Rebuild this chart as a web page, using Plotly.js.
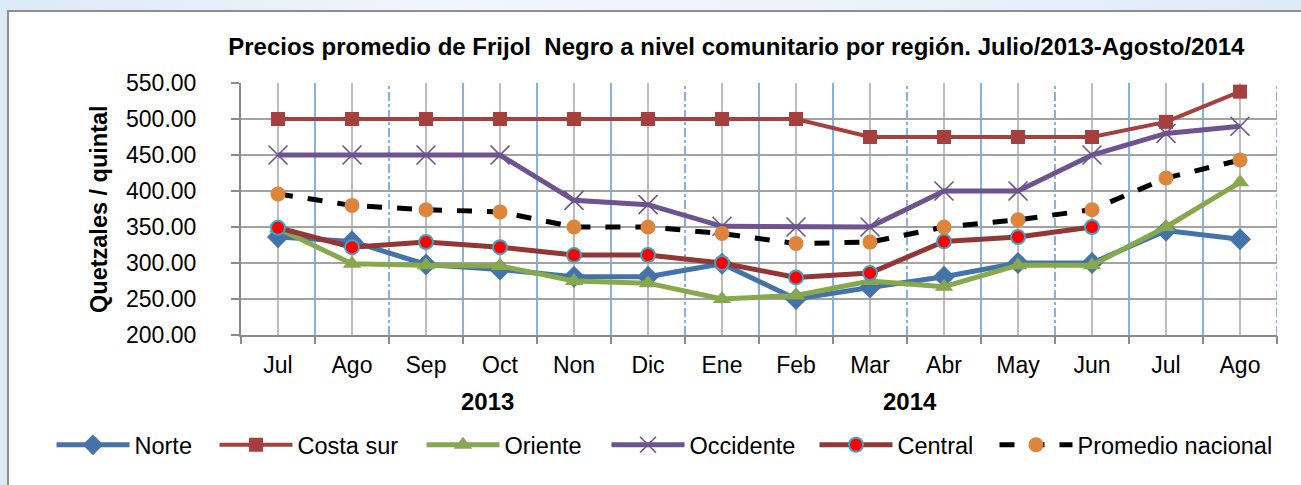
<!DOCTYPE html>
<html>
<head>
<meta charset="utf-8">
<script src="https://cdn.plot.ly/plotly-3.0.1.min.js"></script>
<style>
  html, body { margin:0; padding:0; width:1301px; height:485px; overflow:hidden; }
  body { background: linear-gradient(90deg, #dde9f6 0%, #f1f6fc 35%, #eaf2fb 70%, #dfeaf7 100%); position:relative; }
  #frame { position:absolute; left:7px; top:10px; width:1400px; height:600px; background:#ffffff; border:2px solid #8e8e8e; box-sizing:border-box; }
  #chart { position:absolute; left:0; top:0; width:1301px; height:485px; }
</style>
</head>
<body>
<div id="frame"></div>
<div id="chart"></div>
<script>
const months = ["Jul","Ago","Sep","Oct","Non","Dic","Ene","Feb","Mar","Abr","May","Jun","Jul","Ago"];
const xKeys = months.map((m, i) => i);
const norte     = [336, 330, 298, 291, 281, 281, 299, 250, 266, 281, 300, 300, 345, 333];
const costaSur  = [500, 500, 500, 500, 500, 500, 500, 500, 475, 475, 475, 475, 496, 538];
const oriente   = [348, 299, 297, 296, 275, 272, 250, 255, 275, 267, 297, 297, 350, 412];
const occidente = [450, 450, 450, 450, 387, 381, 351, 350, 350, 400, 400, 450, 480, 490];
const central   = [349, 322, 329, 322, 311, 311, 300, 280, 286, 330, 336, 350, null, null];
const promedio  = [396, 380, 374, 371, 350, 350, 341, 327, 329, 350, 360, 374, 418, 443];
const yearLabels = ["2013", "2014"];
const seriesNames = ["Norte", "Costa sur", "Oriente", "Occidente", "Central", "Promedio nacional"];

const FONT = "Liberation Sans, Arial, sans-serif";
const legendIds = ["legend", "legend2", "legend3", "legend4", "legend5", "legend6"];

const traces = [
  {name:seriesNames[0], y:norte, line:{color:"#4473a9", width:5}, marker:{symbol:"diamond", size:17, color:"#4473a9"}},
  {name:seriesNames[1], y:costaSur, line:{color:"#a6403d", width:4}, marker:{symbol:"square", size:14, color:"#a6403d"}},
  {name:seriesNames[2], y:oriente, line:{color:"#87a84c", width:5}, marker:{symbol:"triangle-up", size:16, color:"#87a84c"}},
  {name:seriesNames[3], y:occidente, line:{color:"#6d5390", width:5}, marker:{symbol:"x-thin-open", size:19, color:"#6d5390", line:{color:"#6d5390", width:1.6}}},
  {name:seriesNames[4], y:central, line:{color:"#943634", width:5}, marker:{symbol:"circle", size:14, color:"#ff0000", line:{color:"#3fa3bf", width:2}}},
  {name:seriesNames[5], y:promedio, line:{color:"#000000", width:5, dash:"dash"}, marker:{symbol:"circle", size:15, color:"#dd853a"}}
].map((t, i) => Object.assign({type:"scatter", mode:"lines+markers", x:xKeys, connectgaps:false, legend:legendIds[i]}, t));

const shapes = [];
xKeys.forEach(i => {
  shapes.push({type:"line", xref:"x", yref:"paper", x0:i, x1:i, y0:0, y1:1, line:{color:"#bdbdbd", width:2}, layer:"below"});
});
const dashedB = [1.5, 5.5, 8.5, 10.5, 13.5];
for (let k = 0; k < months.length; k++) {
  const b = k + 0.5;
  const dashed = dashedB.includes(b);
  shapes.push({type:"line", xref:"x", yref:"paper", x0:b, x1:b, y0:0, y1:1, line:{color:"#5f98dc", width:1.5, dash: dashed ? "dashdot" : "solid"}, layer:"below"});
}

const legendStartsPx = [57, 220, 427, 612, 820, 1000];
const legendY = (335-445)/252;

const layout = {
  width:1301, height:485,
  margin:{l:241, r:24, t:83, b:150},
  paper_bgcolor:"rgba(0,0,0,0)",
  plot_bgcolor:"rgba(0,0,0,0)",
  font:{family:FONT, color:"#000000", size:23},
  title:{text:"Precios promedio de Frijol  Negro a nivel comunitario por región. Julio/2013-Agosto/2014",
         font:{size:24, color:"#000000", family:FONT, weight:"bold"},
         xref:"container", yref:"container", x:0.566, xanchor:"center", y:1-47/485, yanchor:"middle"},
  xaxis:{
    type:"linear", range:[-0.5, 13.5], tickmode:"array", tickvals:xKeys, ticktext:months,
    showgrid:false, zeroline:false, showline:true, linecolor:"#8a8a8a", linewidth:2,
    ticks:"", tickfont:{size:23}, ticklabelstandoff:8, fixedrange:true
  },
  xaxis2:{
    overlaying:"x", matching:"x", range:[-0.5, 13.5], tickmode:"linear", tick0:-0.5, dtick:1,
    showticklabels:false, ticks:"outside", ticklen:8, tickwidth:2, tickcolor:"#8a8a8a",
    showgrid:false, zeroline:false, anchor:"y", side:"bottom"
  },
  yaxis:{
    range:[200, 550], dtick:50, tick0:200, tickformat:".2f",
    showgrid:true, gridcolor:"#a3a3a3", gridwidth:2,
    zeroline:false, showline:true, linecolor:"#8a8a8a", linewidth:2,
    ticks:"outside", ticklen:8, tickwidth:2, tickcolor:"#8a8a8a",
    ticklabelstandoff:30, tickfont:{size:23}, fixedrange:true
  },
  showlegend:true,
  shapes:shapes,
  annotations:[
    {text:yearLabels[0], xref:"paper", yref:"paper", x:(487-241)/1036, y:(335-401)/252, showarrow:false,
     font:{size:24, weight:"bold"}, xanchor:"center", yanchor:"middle"},
    {text:yearLabels[1], xref:"paper", yref:"paper", x:(910-241)/1036, y:(335-401)/252, showarrow:false,
     font:{size:24, weight:"bold"}, xanchor:"center", yanchor:"middle"},
    {text:"Quetzales / quintal", xref:"paper", yref:"paper", x:(99-241)/1036, y:0.5, textangle:-90, showarrow:false,
     font:{size:23.5, weight:"bold"}, xanchor:"center", yanchor:"middle"}
  ]
};
legendIds.forEach((id, i) => {
  layout[id] = {orientation:"h", x:(legendStartsPx[i]-5.5-241)/1036, xanchor:"left", y:legendY, yanchor:"middle",
                font:{size:23.5}, itemwidth:73, bgcolor:"rgba(0,0,0,0)"};
});

const tickTrace = {type:"scatter", x:[-0.5], y:[null], xaxis:"x2", yaxis:"y", showlegend:false, hoverinfo:"skip", mode:"markers"};

Plotly.newPlot("chart", traces.concat([tickTrace]), layout, {displayModeBar:false, staticPlot:true});
</script>
</body>
</html>
